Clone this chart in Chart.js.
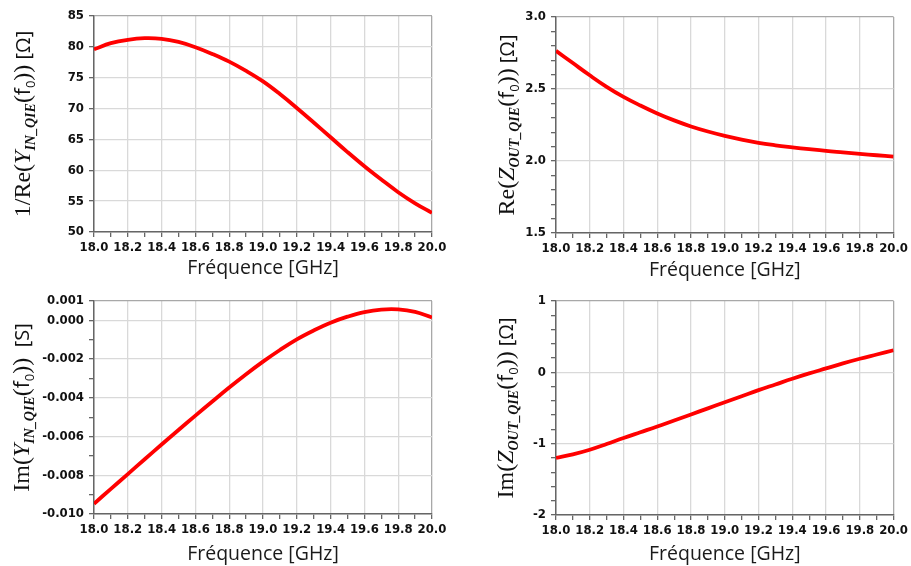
<!DOCTYPE html>
<html><head><meta charset="utf-8">
<script src="https://cdn.jsdelivr.net/npm/chart.js@4/dist/chart.umd.min.js"></script>
<style>
html,body{margin:0;padding:0;background:#fff;width:911px;height:566px;overflow:hidden}
.p{position:absolute}
canvas{display:block}
</style></head><body>
<div class="p" style="left:0;top:0"><canvas id="c1" width="455" height="283"></canvas></div>
<div class="p" style="left:455px;top:0"><canvas id="c2" width="456" height="283"></canvas></div>
<div class="p" style="left:0;top:283px"><canvas id="c3" width="455" height="283"></canvas></div>
<div class="p" style="left:455px;top:283px"><canvas id="c4" width="456" height="283"></canvas></div>
<script>
// ---- data ----
const freqGHz = [18.0,18.1,18.2,18.3,18.4,18.5,18.6,18.7,18.8,18.9,19.0,19.1,19.2,19.3,19.4,19.5,19.6,19.7,19.8,19.9,20.0];
const invReYin = [79.6,80.6,81.15,81.4,81.3,80.8,79.95,78.85,77.6,76.1,74.4,72.35,70.1,67.75,65.35,62.95,60.65,58.5,56.45,54.65,53.1];
const reZout = [2.765,2.68,2.595,2.515,2.445,2.385,2.33,2.282,2.24,2.205,2.175,2.149,2.126,2.109,2.095,2.082,2.07,2.06,2.05,2.04,2.03];
const imYin = [-0.00947,-0.0087,-0.00794,-0.00717,-0.00641,-0.00566,-0.00492,-0.00419,-0.00347,-0.00278,-0.00213,-0.00153,-0.00098,-0.00052,-0.00012,0.00019,0.00043,0.00056,0.00057,0.00044,0.00015];
const imZout = [-1.20,-1.15,-1.085,-1.005,-0.92,-0.84,-0.76,-0.675,-0.59,-0.505,-0.42,-0.335,-0.25,-0.17,-0.09,-0.015,0.055,0.125,0.19,0.25,0.31];
const xTitle = 'Fréquence [GHz]';
const xTickLabels = ['18.0','18.2','18.4','18.6','18.8','19.0','19.2','19.4','19.6','19.8','20.0'];

const SERIF = '"Liberation Serif"';
const SANS = '"Open Sans"';
function titleSegs(pre, v, sub, unit){
  return [
    {text: pre, font: '24px '+SERIF},
    {text: v, font: 'italic 24px '+SERIF},
    {text: sub, font: 'italic bold 14px '+SERIF, dy: 5},
    {text: '(', font: '24px '+SERIF},
    {text: 'f', font: '21px '+SANS},
    {text: '0', font: '13px '+SANS, dy: 5},
    {text: '))', font: '24px '+SERIF},
    {text: unit, font: '20px '+SANS}
  ];
}

const yTitlePlugin = {
  id: 'yTitle',
  afterDraw(chart, args, opts) {
    const ctx = chart.ctx, segs = opts.segments;
    if (!segs) return;
    ctx.save();
    let total = 0;
    segs.forEach(s => { ctx.font = s.font; s.w = ctx.measureText(s.text).width; total += s.w; });
    const cy = (chart.chartArea.top + chart.chartArea.bottom) / 2;
    ctx.translate(opts.x, cy + total / 2);
    ctx.rotate(-Math.PI / 2);
    ctx.fillStyle = '#111';
    ctx.textBaseline = 'alphabetic';
    ctx.textAlign = 'left';
    let x = 0;
    segs.forEach(s => { ctx.font = s.font; ctx.fillText(s.text, x, s.dy || 0); x += s.w; });
    ctx.restore();
  }
};

const TICKFONT = {family: '"DejaVu Sans Condensed", "DejaVu Sans"', size: 13, weight: 'bold'};

function makeChart(id, W, H, area, ys, yOpt, segs, titleX, xTitleBottomPad) {
  const pts = freqGHz.map((f, i) => ({x: f, y: ys[i]}));
  return new Chart(document.getElementById(id), {
    type: 'line',
    data: {datasets: [{data: pts, borderColor: '#ff0000', borderWidth: 3.8, pointRadius: 0,
      tension: 0.4, fill: false}]},
    plugins: [yTitlePlugin],
    options: {
      responsive: false, animation: false, devicePixelRatio: 1, events: [],
      layout: {autoPadding: false, padding: {left: 0, top: area.top, right: W - area.right, bottom: 0}},
      plugins: {legend: {display: false}, tooltip: {enabled: false}, yTitle: {segments: segs, x: titleX}},
      scales: {
        x: {
          type: 'linear', min: 18, max: 20,
          afterFit(s) { s.height = H - area.bottom; },
          ticks: {
            stepSize: 0.1, autoSkip: false, maxRotation: 0, minRotation: 0, padding: 3,
            font: TICKFONT, color: '#111',
            callback(v) { const k = Math.round(v * 10); const s = (k / 10).toFixed(1); return xTickLabels.includes(s) ? s : ''; }
          },
          grid: {
            color(c) { const v = c.tick ? c.tick.value : 0; const k = Math.round(v * 10);
              if (k === 200) return '#a8a8a8'; return k % 2 === 0 ? '#d9d9d9' : 'rgba(0,0,0,0)'; },
            tickColor: '#666', tickLength: 5, lineWidth: 1.3
          },
          border: {color: '#666', width: 1.5},
          title: {display: true, text: xTitle, color: '#1a1a1a', font: {family: SANS, size: 19.5},
            padding: {top: 0, bottom: xTitleBottomPad}}
        },
        y: {
          type: 'linear', min: yOpt.min, max: yOpt.max,
          afterFit(s) { s.width = area.left; },
          ticks: {stepSize: yOpt.step, autoSkip: false, padding: 5, font: TICKFONT, color: '#111',
            callback(v) { return yOpt.label(v); }},
          grid: {
            color(c) { const v = c.tick ? c.tick.value : 0;
              if (Math.abs(v - yOpt.max) < 1e-9) return '#a8a8a8';
              return yOpt.label(v) !== '' ? '#d9d9d9' : 'rgba(0,0,0,0)'; },
            tickColor: '#666', tickLength: 5, lineWidth: 1.3
          },
          border: {color: '#666', width: 1.5}
        }
      }
    }
  });
}

const y1Ticks = ['50','55','60','65','70','75','80','85'];
const y2Ticks = ['1.5','2.0','2.5','3.0'];
const y3Ticks = ['-0.010','-0.008','-0.006','-0.004','-0.002','0.000','0.001'];
const y4Ticks = ['-2','-1','0','1'];

makeChart('c1', 455, 283, {left: 94, right: 432, top: 16, bottom: 232}, invReYin,
  {min: 50, max: 85, step: 5, label(v) { const s = String(Math.round(v)); return y1Ticks.includes(s) ? s : ''; }},
  titleSegs('1/Re(', 'Y', 'IN_QIE', ' [Ω]'), 30, 3);

makeChart('c2', 456, 283, {left: 101, right: 441, top: 17, bottom: 233}, reZout,
  {min: 1.5, max: 3.0, step: 0.1, label(v) { const s = (Math.round(v * 10) / 10).toFixed(1); return y2Ticks.includes(s) && Math.abs(v - parseFloat(s)) < 1e-6 ? s : ''; }},
  titleSegs('Re(', 'Z', 'OUT_QIE', ' [Ω]'), 59, 1);

makeChart('c3', 455, 283, {left: 94, right: 432, top: 18, bottom: 231}, imYin,
  {min: -0.010, max: 0.001, step: 0.001, label(v) { let s = (Math.round(v * 1000) / 1000).toFixed(3); if (s === '-0.000') s = '0.000'; return y3Ticks.includes(s) ? s : ''; }},
  titleSegs('Im(', 'Y', 'IN_QIE', '  [S]'), 29, 0);

makeChart('c4', 456, 283, {left: 101, right: 441, top: 18, bottom: 232}, imZout,
  {min: -2, max: 1, step: 0.2, label(v) { const r = Math.round(v); if (Math.abs(v - r) > 1e-6) return ''; const s = String(r === 0 ? 0 : r); return y4Ticks.includes(s) ? s : ''; }},
  titleSegs('Im(', 'Z', 'OUT_QIE', ' [Ω]'), 58, 0);
</script>
</body></html>
